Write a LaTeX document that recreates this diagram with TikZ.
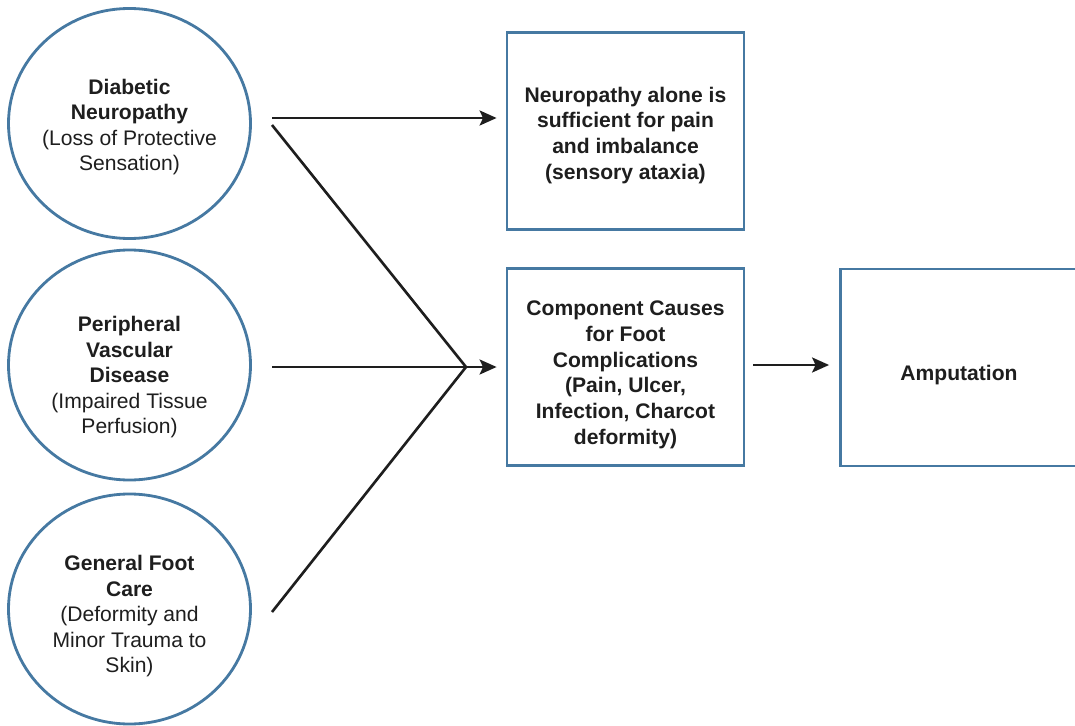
\documentclass[tikz,border=0pt]{standalone}
\usepackage{fontspec}
\setmainfont{Liberation Sans}
\usepackage{tikz}
\usetikzlibrary{arrows.meta,positioning,calc,shapes.geometric}
\definecolor{steel}{HTML}{4679A2}
\definecolor{ink}{HTML}{1E1E1E}
\newcommand{\drop}[1]{\rule{0pt}{#1}}

\begin{document}
\begin{tikzpicture}[font=\fontsize{12}{14.5}\selectfont,
  cause/.style={ellipse,draw=steel,line width=1.6pt,minimum width=4.84cm,minimum height=4.6cm,inner xsep=-0.1cm,inner ysep=0pt,align=center,text=ink},
  effect/.style={rectangle,draw=steel,line width=1.6pt,minimum width=4.74cm,minimum height=3.94cm,align=center,text=ink,font=\fontsize{12}{14.6}\selectfont\bfseries},
  link/.style={ink,line width=1.5pt},
  arr/.style={link,-{Stealth[length=3.4mm,width=3mm,inset=0.7mm]}}]
\useasboundingbox (0,0) rectangle (21.5,-14.52);
\clip (0,0) rectangle (21.5,-14.52);
% causes on the left
\node[cause] (dn) at (2.59,-2.47) {\drop{0.45cm}\textbf{Diabetic}\\\textbf{Neuropathy}\\(Loss of Protective\\Sensation)};
\node[cause] (pvd) at (2.59,-7.30) {\drop{0.79cm}\textbf{Peripheral}\\\textbf{Vascular}\\\textbf{Disease}\\(Impaired Tissue\\Perfusion)};
\node[cause] (gfc) at (2.59,-12.18) {\drop{0.59cm}\textbf{General Foot}\\\textbf{Care}\\(Deformity and\\Minor Trauma to\\Skin)};
% outcomes
\node[effect] (alone) at (12.51,-2.62) {\drop{0.47cm}Neuropathy alone is\\sufficient for pain\\and imbalance\\(sensory ataxia)};
\node[effect] (comp) at (12.51,-7.34) {\drop{0.61cm}Component Causes\\for Foot\\Complications\\(Pain, Ulcer,\\Infection, Charcot\\deformity)};
\node[effect] (amp) at (19.18,-7.35) {\drop{0.59cm}Amputation};
% connectors
\coordinate (dnOut) at (5.44,-2.36);
\coordinate (dnDiag) at (5.44,-2.50);
\coordinate (pvdOut) at (5.44,-7.34);
\coordinate (gfcOut) at (5.44,-12.24);
\coordinate (merge) at (9.32,-7.34);
\draw[arr,shorten >=0.18cm] (dnOut) -- (dnOut -| alone.west);
\draw[link] (dnDiag) -- (merge);
\draw[link] (gfcOut) -- (merge);
\draw[arr,shorten >=0.18cm] (pvdOut) -- (pvdOut -| comp.west);
\draw[arr,shorten <=0.16cm,shorten >=0.2cm] ([yshift=0.04cm]comp.east) -- ([yshift=0.04cm]comp.east -| amp.west);
\end{tikzpicture}
\end{document}
